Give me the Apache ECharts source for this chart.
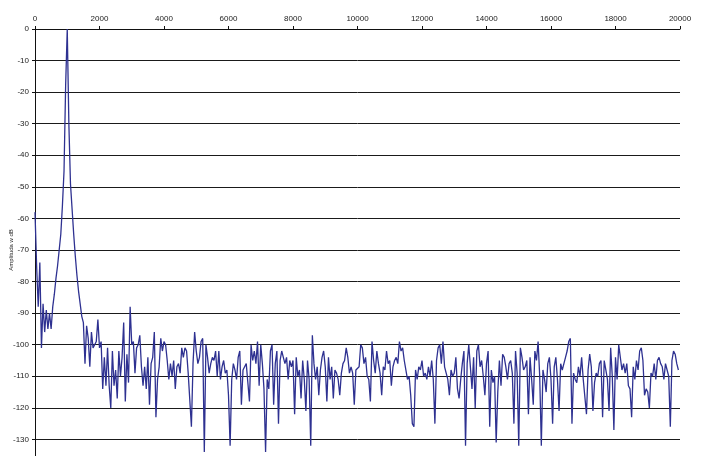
<!DOCTYPE html>
<html>
<head>
<meta charset="utf-8">
<script src="https://cdn.jsdelivr.net/npm/echarts@6/dist/echarts.min.js"></script>
<style>
html,body{margin:0;padding:0;background:#fff;overflow:hidden;width:705px;height:456px;}
#c{width:705px;height:471px;}
</style>
</head>
<body>
<div id="c"></div>
<script>
// Frequency bin width (Hz) of the spectrum samples
const binHz = 50;
// Amplitude (dB) for bins 0, 50, 100 ... 19950 Hz, one row per 1000 Hz
const amp0  = [-58,-75,-88,-74,-101,-87,-96,-89,-95,-90,-95,-88,-84,-79,-75,-70,-65,-56,-45,-18];
const amp1  = [0,-30,-49,-57,-65,-72,-78,-83,-87,-91,-93,-106,-94,-98,-107,-96,-101,-100,-99,-92];
const amp2  = [-101,-99,-114,-104,-113,-101,-113,-120,-102,-113,-108,-117,-102,-110,-104,-93,-118,-103,-112,-88];
const amp3  = [-100,-99,-109,-101,-100,-97,-107,-113,-107,-114,-104,-119,-106,-104,-96,-123,-111,-107,-98,-102];
const amp4  = [-99,-100,-105,-111,-106,-110,-105,-114,-107,-106,-109,-101,-104,-101,-102,-109,-109,-126,-106,-96];
const amp5  = [-102,-106,-104,-99,-98,-134,-100,-104,-109,-106,-104,-105,-102,-110,-102,-111,-107,-105,-109,-108];
const amp6  = [-116,-132,-111,-106,-108,-111,-104,-102,-119,-108,-107,-106,-106,-118,-100,-105,-102,-106,-99,-113];
const amp7  = [-100,-106,-114,-134,-111,-114,-102,-100,-119,-106,-102,-125,-105,-102,-104,-106,-104,-111,-105,-107];
const amp8  = [-105,-122,-104,-110,-108,-117,-105,-111,-121,-105,-111,-132,-97,-106,-111,-107,-116,-108,-104,-102];
const amp9  = [-107,-118,-104,-111,-107,-117,-108,-109,-111,-116,-109,-106,-105,-101,-104,-109,-107,-109,-119,-108];
const amp10 = [-108,-107,-100,-101,-106,-104,-110,-111,-118,-99,-105,-109,-102,-106,-109,-116,-107,-108,-102,-106];
const amp11 = [-105,-113,-107,-105,-104,-106,-99,-102,-101,-105,-105,-111,-110,-116,-125,-126,-108,-111,-107,-108];
const amp12 = [-105,-110,-109,-111,-107,-110,-105,-111,-125,-105,-101,-100,-106,-99,-107,-109,-111,-116,-108,-110];
const amp13 = [-109,-104,-114,-117,-111,-106,-102,-132,-106,-100,-100,-114,-104,-120,-102,-100,-107,-105,-110,-116];
const amp14 = [-106,-102,-126,-108,-112,-110,-131,-115,-105,-113,-103,-104,-107,-111,-106,-105,-109,-125,-102,-109];
const amp15 = [-132,-101,-104,-108,-107,-105,-122,-104,-111,-119,-102,-105,-99,-110,-132,-108,-111,-115,-106,-104];
const amp16 = [-111,-125,-107,-104,-111,-121,-106,-108,-106,-104,-102,-99,-98,-125,-109,-111,-112,-107,-110,-104];
const amp17 = [-111,-111,-122,-108,-103,-107,-121,-112,-109,-110,-106,-105,-123,-105,-108,-111,-121,-101,-110,-127];
const amp18 = [-104,-111,-100,-100,-108,-106,-109,-106,-113,-114,-123,-107,-111,-105,-108,-102,-101,-105,-116,-114];
const amp19 = [-115,-120,-109,-110,-106,-111,-105,-104,-106,-107,-111,-106,-108,-110,-126,-105,-102,-103,-106,-108];

const xTicks = [0,2000,4000,6000,8000,10000,12000,14000,16000,18000,20000];
const yTicks = [0,-10,-20,-30,-40,-50,-60,-70,-80,-90,-100,-110,-120,-130];
const yName = 'Amplituda w dB';

const amps = [].concat(amp0,amp1,amp2,amp3,amp4,amp5,amp6,amp7,amp8,amp9,
                       amp10,amp11,amp12,amp13,amp14,amp15,amp16,amp17,amp18,amp19);
const data = amps.map((v,i) => [i*binHz, v]);

const font = "'Liberation Sans', Arial, sans-serif";
const chart = echarts.init(document.getElementById('c'), null, {renderer:'canvas'});
chart.setOption({
  animation: false,
  backgroundColor: '#ffffff',
  grid: {left: 35, right: 25, top: 29, bottom: 0, containLabel: false, outerBoundsMode: 'none'},
  xAxis: {
    type: 'value', position: 'top',
    min: xTicks[0], max: xTicks[xTicks.length-1], interval: 2000,
    axisLine: {show: true, lineStyle: {color: '#111', width: 1}},
    axisTick: {show: true, length: 3, lineStyle: {color: '#111'}},
    axisLabel: {fontFamily: font, fontSize: 8, color: '#222', margin: 6,
      formatter: v => String(v)},
    splitLine: {show: false}
  },
  yAxis: {
    type: 'value', min: -140, max: yTicks[0], interval: 10,
    name: yName, nameLocation: 'middle', nameGap: 21, nameRotate: 90,
    nameMoveOverlap: false,
    nameTextStyle: {fontFamily: font, fontSize: 6, color: '#222'},
    axisLine: {show: true, lineStyle: {color: '#111', width: 1}},
    axisTick: {show: true, length: 3, lineStyle: {color: '#111'}},
    axisLabel: {fontFamily: font, fontSize: 8, color: '#222', margin: 6,
      formatter: v => (yTicks.indexOf(v) >= 0 ? String(v) : '')},
    splitLine: {show: true, lineStyle: {color: '#1a1a1a', width: 1}}
  },
  series: [{
    type: 'line', data: data, symbol: 'none', sampling: null,
    lineStyle: {color: '#2e3191', width: 1.3},
    clip: true
  }]
});
</script>
</body>
</html>
